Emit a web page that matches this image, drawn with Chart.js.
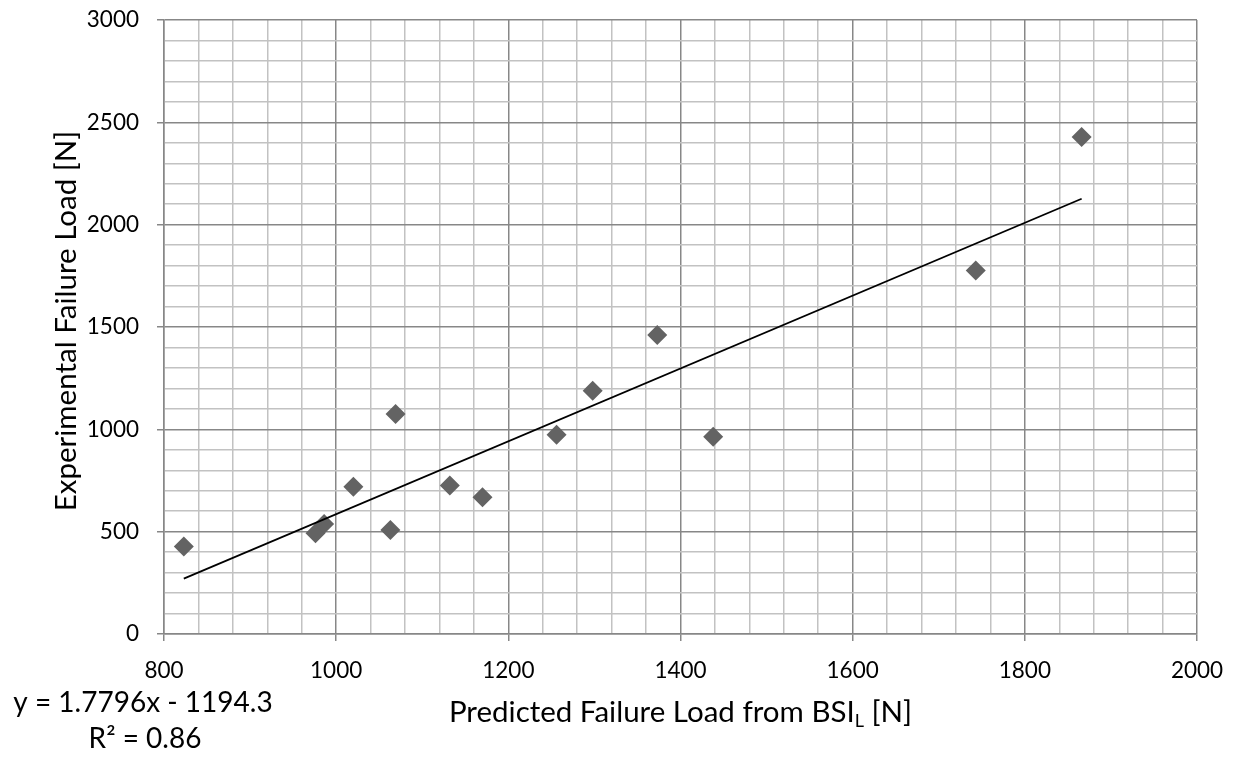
<!DOCTYPE html>
<html>
<head>
<meta charset="utf-8">
<script src="https://cdn.jsdelivr.net/npm/chart.js@4.4.1/dist/chart.umd.min.js"></script>
<style>
  html, body { margin: 0; padding: 0; background: #fff; }
  #wrap { width: 1233px; height: 759px; }
</style>
</head>
<body>
<div id="wrap"><canvas id="chart" width="1233" height="759"></canvas></div>
<script>
// predicted failure load from BSI_L [N]
const predicted = [823, 976, 986, 1020, 1063, 1069, 1132, 1170, 1256, 1298, 1373, 1438, 1743, 1866];
// experimental failure load [N]
const experimental = [427, 492, 538, 720, 508, 1075, 725, 668, 973, 1189, 1461, 964, 1776, 2428];

// linear trend line, as printed on the chart
const slope = 1.7796;
const intercept = -1194.3;
const rSquared = 0.86;

const xTicks = { min: 800, max: 2000, major: 200, minor: 40 };
const yTicks = { min: 0, max: 3000, major: 500, minor: 100 };

const FONT = 'Lato, "Open Sans", sans-serif';
const MAJOR = '#878787';
const MINOR = '#c2c2c2';

const xMin = Math.min(...predicted);
const xMax = Math.max(...predicted);
const trend = [xMin, xMax].map(x => ({ x, y: slope * x + intercept }));

const textPlugin = {
  id: 'texts',
  afterDraw(chart) {
    const ctx = chart.ctx;
    const area = chart.chartArea;
    ctx.save();
    ctx.fillStyle = '#000';
    ctx.textBaseline = 'alphabetic';

    // x title with subscript
    const big = '29.5px ' + FONT;
    const small = '18px ' + FONT;
    const p1 = 'Predicted Failure Load from BSI';
    const p2 = 'L';
    const p3 = ' [N]';
    ctx.font = big;
    const w1 = ctx.measureText(p1).width, w3 = ctx.measureText(p3).width;
    ctx.font = small;
    const w2 = ctx.measureText(p2).width;
    let x = (area.left + area.right) / 2 - (w1 + w2 + w3) / 2;
    const base = 722;
    ctx.textAlign = 'left';
    ctx.font = big; ctx.fillText(p1, x, base); x += w1;
    ctx.font = small; ctx.fillText(p2, x, base + 5); x += w2;
    ctx.font = big; ctx.fillText(p3, x, base);

    // y title
    ctx.save();
    ctx.translate(76, 321);
    ctx.rotate(-Math.PI / 2);
    ctx.textAlign = 'center';
    ctx.font = big;
    ctx.fillText('Experimental Failure Load [N]', 0, 0);
    ctx.restore();

    // trend equation
    ctx.textAlign = 'center';
    ctx.font = '28px ' + FONT;
    const sign = intercept < 0 ? ' - ' : ' + ';
    ctx.fillText('y = ' + slope + 'x' + sign + Math.abs(intercept).toFixed(1), 143, 712);
    ctx.fillText('R² = ' + rSquared.toFixed(2), 145, 748);
    ctx.restore();
  }
};

new Chart(document.getElementById('chart'), {
  data: {
    datasets: [
      {
        type: 'line',
        data: trend,
        borderColor: '#000',
        borderWidth: 1.8,
        pointRadius: 0,
        fill: false,
        order: 0
      },
      {
        type: 'scatter',
        data: predicted.map((x, i) => ({ x, y: experimental[i] })),
        pointStyle: 'rectRot',
        pointRadius: 10,
        pointHoverRadius: 10,
        backgroundColor: '#636363',
        borderWidth: 0,
        order: 1
      }
    ]
  },
  options: {
    responsive: false,
    animation: false,
    layout: { padding: { top: 20, right: 36, left: 0, bottom: 0 } },
    plugins: { legend: { display: false }, tooltip: { enabled: false } },
    scales: {
      x: {
        type: 'linear',
        min: xTicks.min,
        max: xTicks.max,
        afterFit: s => { s.height = 125; s.paddingLeft = 0; s.paddingRight = 0; },
        border: { color: MAJOR, width: 1.5 },
        grid: {
          color: c => c.tick && c.tick.value % xTicks.major === 0 ? MAJOR : MINOR,
          lineWidth: 1.5,
          tickLength: 7,
          tickColor: c => c.tick && c.tick.value % xTicks.major === 0 ? MAJOR : 'rgba(0,0,0,0)'
        },
        ticks: {
          stepSize: xTicks.minor,
          autoSkip: false,
          maxRotation: 0,
          padding: 16,
          color: '#000',
          font: { family: FONT, size: 22.5 },
          callback: v => v % xTicks.major === 0 ? v : ''
        }
      },
      y: {
        type: 'linear',
        min: yTicks.min,
        max: yTicks.max,
        afterFit: s => { s.width = 164; s.paddingTop = 0; s.paddingBottom = 0; },
        border: { color: MAJOR, width: 1.5 },
        grid: {
          color: c => c.tick && c.tick.value % yTicks.major === 0 ? MAJOR : MINOR,
          lineWidth: 1.5,
          tickLength: 7,
          tickColor: c => c.tick && c.tick.value % yTicks.major === 0 ? MAJOR : 'rgba(0,0,0,0)'
        },
        ticks: {
          stepSize: yTicks.minor,
          autoSkip: false,
          padding: 18,
          color: '#000',
          font: { family: FONT, size: 22.5 },
          callback: v => v % yTicks.major === 0 ? v : ''
        }
      }
    }
  },
  plugins: [textPlugin]
});
</script>
</body>
</html>
